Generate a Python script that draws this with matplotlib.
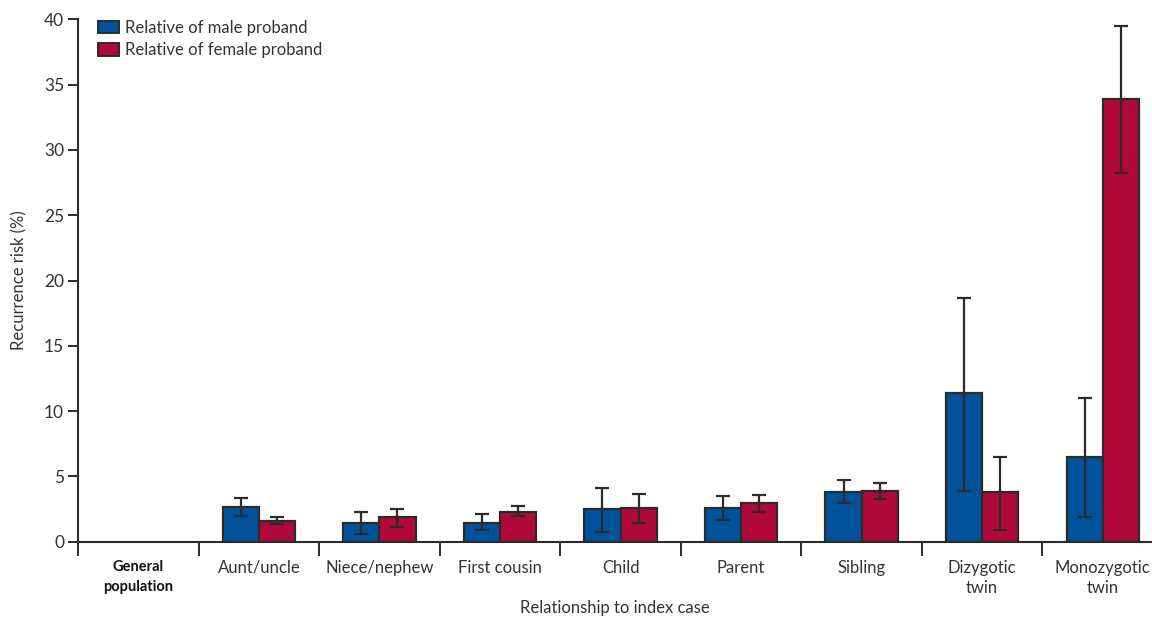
import matplotlib
matplotlib.use("Agg")
import matplotlib.pyplot as plt
from matplotlib.patches import Patch
import numpy as np

plt.rcParams["font.family"] = ["Lato", "DejaVu Sans"]

categories = ["General\npopulation", "Aunt/uncle", "Niece/nephew", "First cousin",
              "Child", "Parent", "Sibling", "Dizygotic\ntwin", "Monozygotic\ntwin"]

# Recurrence risk (%) with 95% CI bounds; general population has no bars
male_risk = [np.nan, 2.67, 1.45, 1.45, 2.50, 2.55, 3.77, 11.37, 6.47]
male_low = [np.nan, 1.98, 0.56, 0.92, 0.74, 1.63, 2.95, 3.89, 1.91]
male_high = [np.nan, 3.34, 2.24, 2.09, 4.12, 3.51, 4.71, 18.63, 10.99]

female_risk = [np.nan, 1.56, 1.86, 2.24, 2.57, 2.98, 3.92, 3.77, 33.9]
female_low = [np.nan, 1.33, 1.10, 1.94, 1.45, 2.27, 3.28, 0.92, 28.2]
female_high = [np.nan, 1.91, 2.52, 2.72, 3.66, 3.59, 4.48, 6.47, 39.5]

series_labels = ["Relative of male proband", "Relative of female proband"]
y_ticks = [0, 5, 10, 15, 20, 25, 30, 35, 40]

blue = "#00539b"
red = "#b0083a"
edge = "#2b2b2b"
text_col = "#333333"

fig = plt.figure(figsize=(11.52, 6.19), dpi=100)
ax = fig.add_axes([78 / 1152, 1 - 541.7 / 619, (1152 - 78) / 1152, (541.7 - 19.3) / 619])

x = np.arange(len(categories))
w = 0.3

def err(vals, lo, hi):
    v = np.array(vals, dtype=float)
    return np.vstack([v - np.array(lo, dtype=float), np.array(hi, dtype=float) - v])

ax.bar(x - w / 2, male_risk, width=w, color=blue, edgecolor=edge, linewidth=1.6, zorder=2)
ax.bar(x + w / 2, female_risk, width=w, color=red, edgecolor=edge, linewidth=1.6, zorder=2)
ax.errorbar(x - w / 2, male_risk, yerr=err(male_risk, male_low, male_high), fmt="none",
            ecolor=edge, elinewidth=1.6, capsize=5, capthick=1.6, zorder=3)
ax.errorbar(x + w / 2, female_risk, yerr=err(female_risk, female_low, female_high), fmt="none",
            ecolor=edge, elinewidth=1.6, capsize=5, capthick=1.6, zorder=3)

ax.set_xlim(-0.5, 8.5 - 11 / 120.5)
ax.set_ylim(0, 40)
ax.set_yticks(y_ticks)
ax.tick_params(axis="y", direction="out", length=7, width=1.4, color=edge,
               labelsize=12.5, labelcolor=text_col, pad=3)

# category boundaries as ticks, labels at centres
ax.set_xticks(np.arange(-0.5, 8.5, 1.0))
ax.set_xticklabels([])
ax.tick_params(axis="x", which="major", direction="out", length=10, width=1.4, color=edge)
ax.set_xticks(x, minor=True)
ax.set_xticklabels(categories, minor=True)
ax.tick_params(axis="x", which="minor", length=0, pad=13, labelsize=12, labelcolor=text_col)
gp = ax.get_xticklabels(minor=True)[0]
gp.set_fontweight("bold")
gp.set_fontsize(10.5)
gp.set_color("#111111")
gp.set_linespacing(1.55)
for lbl in ax.get_xticklabels(minor=True)[1:]:
    lbl.set_linespacing(1.35)

for side in ["top", "right"]:
    ax.spines[side].set_visible(False)
for side in ["left", "bottom"]:
    ax.spines[side].set_linewidth(1.5)
    ax.spines[side].set_color(edge)

ax.set_ylabel("Recurrence risk (%)", fontsize=12, color=text_col, labelpad=12)
ax.set_xlabel("Relationship to index case", fontsize=12, color=text_col)
ax.xaxis.set_label_coords(0.5, -0.127)
ax.xaxis.label.set_va("center")

handles = [Patch(facecolor=blue, edgecolor=edge, linewidth=1.4),
           Patch(facecolor=red, edgecolor=edge, linewidth=1.4)]
ax.legend(handles, series_labels, loc="upper left", bbox_to_anchor=(0.0044, 1.028),
          frameon=False, fontsize=12, handlelength=1.25, handleheight=0.8,
          handletextpad=0.4, labelspacing=0.38, labelcolor=text_col, borderaxespad=0.5)

fig.savefig("out.png", dpi=100)
